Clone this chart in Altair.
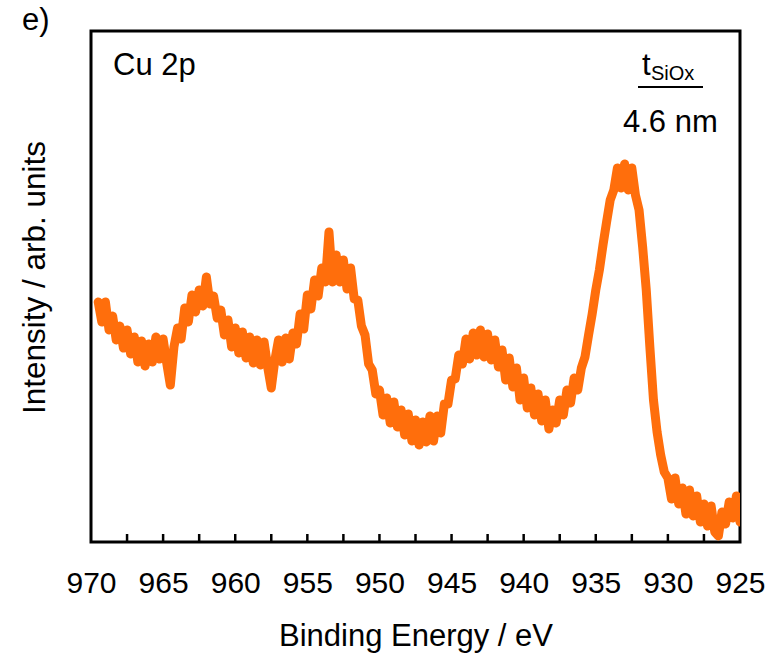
import altair as alt
import pandas as pd

# Cu 2p XPS spectrum, 0.25 eV steps from 969.5 eV down to 925.0 eV
energy_start = 969.5
energy_step = 0.25
intensity = [
    240, 220, 240, 212, 226, 202, 216, 194, 212, 188,
    205, 180, 201, 176, 198, 180, 205, 183, 203, 179,
    157, 195, 214, 203, 234, 220, 247, 230, 252, 236,
    265, 238, 246, 224, 232, 207, 222, 195, 214, 189,
    210, 184, 205, 179, 202, 177, 200, 175, 154, 182,
    202, 180, 204, 183, 209, 198, 228, 213, 247, 233,
    262, 246, 274, 260, 310, 260, 287, 260, 282, 253,
    274, 243, 242, 216, 207, 178, 172, 148, 152, 127,
    144, 119, 140, 115, 132, 107, 128, 101, 122, 97,
    120, 100, 126, 101, 126, 109, 138, 138, 162, 163,
    187, 178, 203, 183, 209, 187, 212, 185, 208, 182,
    202, 175, 192, 162, 184, 155, 174, 142, 164, 134,
    154, 127, 148, 121, 142, 113, 132, 119, 142, 127,
    152, 139, 164, 152, 174, 185, 207, 228, 252, 272,
    297, 320, 342, 352, 374, 354, 378, 352, 374, 347,
    332, 295, 252, 195, 142, 110, 87, 70, 64, 43,
    64, 38, 54, 28, 52, 26, 46, 20, 38, 16,
    36, 10, 6, 30, 18, 40, 24, 46, 20,
]
binding_energy = [round(energy_start - i * energy_step, 2) for i in range(len(intensity))]

# axis tick positions (every 2.5 eV, drawn inside the frame)
tick_positions = [967.5, 965, 962.5, 960, 957.5, 955, 952.5, 950, 947.5, 945,
                  942.5, 940, 937.5, 935, 932.5, 930, 927.5]
tick_labels = [970, 965, 960, 955, 950, 945, 940, 935, 930, 925]

FONT = "Liberation Sans"
ORANGE = "#ff6e0c"
W, H = 649, 511

spectrum = pd.DataFrame({"E": binding_energy, "I": intensity})
ticks = pd.DataFrame({"E": tick_positions})

x_scale = alt.Scale(domain=[925, 970], reverse=True, nice=False, zero=False)
y_scale = alt.Scale(domain=[0, 511], nice=False, zero=True)

line = alt.Chart(spectrum).mark_line(
    color=ORANGE, strokeWidth=9, strokeJoin="round", strokeCap="round", clip=True
).encode(
    x=alt.X("E:Q", scale=x_scale, axis=alt.Axis(
        values=tick_labels, format="d", title="Binding Energy / eV",
        domain=False, ticks=False, tickSize=0, grid=False,
        labelFont=FONT, labelFontSize=30, labelColor="black", labelPadding=26,
        titleFont=FONT, titleFontSize=31, titleFontWeight="normal", titleColor="black",
        titlePadding=23, labelFlush=False,
    )),
    y=alt.Y("I:Q", scale=y_scale, axis=alt.Axis(
        title="Intensity / arb. units", labels=False, ticks=False, tickSize=0,
        domain=False, grid=False,
        titleFont=FONT, titleFontSize=31.5, titleFontWeight="normal", titleColor="black",
        titlePadding=40, titleY=246,
    )),
)

tick_marks = alt.Chart(ticks).mark_rule(color="black", strokeWidth=2.5).encode(
    x=alt.X("E:Q", scale=x_scale),
    y=alt.value(H),
    y2=alt.value(H - 8),
)

def label(text, x, y, size=31, **kw):
    return alt.Chart(pd.DataFrame({"t": [text]})).mark_text(
        font=FONT, fontSize=size, color="black", align="left",
        baseline="alphabetic", **kw
    ).encode(text="t:N", x=alt.value(x), y=alt.value(y))

panel = label("e)", -69, -1, 31)
element = label("Cu 2p", 22, 44, 31)
t_main = label("t", 551, 44, 31)
t_sub = label("SiOx", 560, 49, 20)
thickness = label("4.6 nm", 532, 101, 31)
underline = alt.Chart(pd.DataFrame({"a": [0]})).mark_rule(
    color="black", strokeWidth=2
).encode(x=alt.value(547), x2=alt.value(612), y=alt.value(56))

chart = alt.layer(
    line, tick_marks, panel, element, t_main, t_sub, thickness, underline
).properties(
    width=W, height=H,
    autosize=alt.AutoSizeParams(type="none"),
    padding={"left": 91, "top": 31, "right": 34, "bottom": 129},
    background="white",
).configure_view(stroke="black", strokeWidth=3)

chart.save("out.html", embed_options={"renderer": "svg", "actions": False})
